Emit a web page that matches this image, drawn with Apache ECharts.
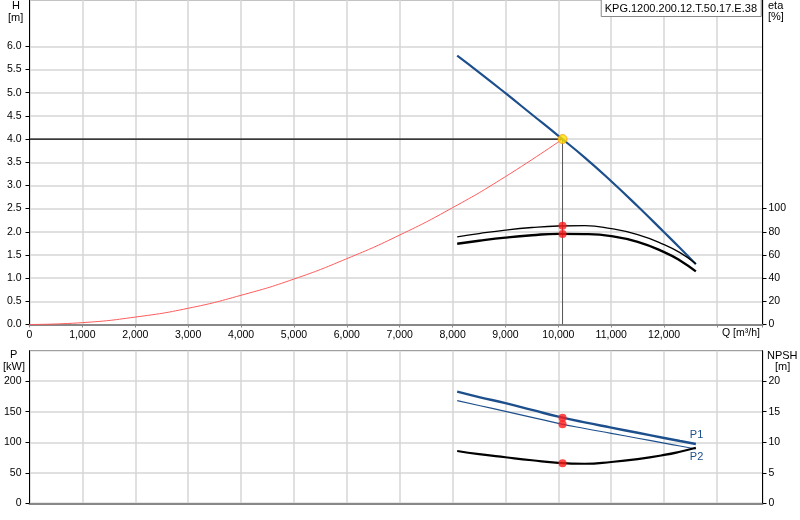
<!DOCTYPE html>
<html><head><meta charset="utf-8">
<script src="https://cdn.jsdelivr.net/npm/echarts@6/dist/echarts.min.js"></script>
<style>html,body{margin:0;padding:0;background:#fff}#c{width:800px;height:520px}</style>
</head><body><div id="c"></div>
<script>
// ---- data ----
const qPump   = [8087, 8500, 9000, 9500, 10000, 10500, 11000, 11500, 12000, 12300, 12600];
const headH   = [5.80, 5.44, 4.99, 4.53, 4.07, 3.60, 3.09, 2.55, 1.99, 1.65, 1.30];
const etaUp   = [75.7, 78.5, 81.5, 83.7, 85.0, 85.3, 82.7, 77.6, 69.0, 62.0, 52.5];
const etaLow  = [69.7, 72.3, 75.0, 77.0, 78.2, 78.0, 76.3, 71.3, 62.5, 55.3, 45.8];
const powerP1 = [182.9, 174.0, 164.0, 153.0, 142.0, 132.5, 124.0, 115.5, 107.0, 102.0, 97.2];
const powerP2 = [168.2, 160.2, 150.6, 140.9, 131.0, 122.5, 114.6, 106.6, 98.6, 93.9, 89.0];
const npsh    = [8.57, 8.05, 7.54, 7.05, 6.62, 6.48, 6.77, 7.25, 7.92, 8.45, 9.10];
const qSystem = [0, 1000, 2000, 3000, 4000, 5000, 6000, 7000, 8000, 9000, 10079];
const hSystem = [0, 0.04, 0.16, 0.35, 0.63, 0.98, 1.42, 1.93, 2.52, 3.19, 4.0];
const duty = {q: 10079, h: 4.0, etaUp: 85.2, etaLow: 78.0, p1: 140.3, p2: 129.5, npsh: 6.55};
const qTicks   = [0,1000,2000,3000,4000,5000,6000,7000,8000,9000,10000,11000,12000];
const hTicks   = [0,0.5,1,1.5,2,2.5,3,3.5,4,4.5,5,5.5,6];
const etaTicks = [0,20,40,60,80,100];
const pTicks   = [0,50,100,150,200];
const npshTicks= [0,5,10,15,20];
const title = 'KPG.1200.200.12.T.50.17.E.38';

const zip = (a,b) => a.map((v,i)=>[v,b[i]]);
const FONT = 'Liberation Sans, Arial, sans-serif';
const BLUE = '#1d4f8c';
const GRID = {lineStyle:{color:'#d6d6d6', width:1.5}};
const lab = (extra) => Object.assign({color:'#000', fontSize:10.5, fontFamily:FONT}, extra);
const SM = 0.5;

const chart = echarts.init(document.getElementById('c'), null, {renderer:'canvas'});
chart.setOption({
  animation:false,
  textStyle:{fontFamily:FONT},
  title:{text:title, right:39, top:-1, padding:[4,4,3,4], borderColor:'#888', borderWidth:1,
    backgroundColor:'#fff', textStyle:{fontSize:11, fontWeight:'normal', color:'#000', fontFamily:FONT}},
  grid:[
    {left:29.5, right:37.5, top:0, height:324.5, show:true, borderColor:'#888', borderWidth:1},
    {left:29.5, right:37.5, top:350.7, height:152.6, show:true, borderColor:'#888', borderWidth:1}
  ],
  xAxis:[
    {gridIndex:0, type:'value', min:0, max:13860, interval:1000,
      axisLine:{onZero:false, lineStyle:{color:'#888', width:2}},
      axisTick:{show:true, length:3, lineStyle:{color:'#888'}},
      axisLabel:lab({margin:5, customValues:qTicks, formatter:v=>v.toLocaleString('en-US')}),
      splitLine:GRID},
    {gridIndex:1, type:'value', min:0, max:13860, interval:1000,
      axisLine:{onZero:false, lineStyle:{color:'#888', width:2}},
      axisTick:{show:false}, axisLabel:{show:false}, splitLine:GRID}
  ],
  yAxis:[
    {gridIndex:0, type:'value', min:0, max:7, interval:0.5, position:'left',
      axisLine:{show:true, lineStyle:{color:'#000', width:1}},
      axisTick:{show:true, length:4, customValues:hTicks, lineStyle:{color:'#000'}},
      axisLabel:lab({margin:8, customValues:hTicks, formatter:v=>v.toFixed(1)}),
      splitLine:GRID},
    {gridIndex:0, type:'value', min:0, max:280, interval:20, position:'right',
      axisLine:{show:true, lineStyle:{color:'#000', width:1}},
      axisTick:{show:true, length:4, customValues:etaTicks, lineStyle:{color:'#000'}},
      axisLabel:lab({margin:6, customValues:etaTicks}),
      splitLine:{show:false}},
    {gridIndex:1, type:'value', min:0, max:250, interval:50, position:'left',
      axisLine:{show:true, lineStyle:{color:'#000', width:1}},
      axisTick:{show:true, length:4, customValues:pTicks, lineStyle:{color:'#000'}},
      axisLabel:lab({margin:8, customValues:pTicks}),
      splitLine:GRID},
    {gridIndex:1, type:'value', min:0, max:25, interval:5, position:'right',
      axisLine:{show:true, lineStyle:{color:'#000', width:1}},
      axisTick:{show:true, length:4, customValues:npshTicks, lineStyle:{color:'#000'}},
      axisLabel:lab({margin:6, customValues:npshTicks}),
      splitLine:{show:false}}
  ],
  graphic:[
    {type:'text', left:12, top:0, style:{text:'H', font:'11px '+FONT, fill:'#000'}},
    {type:'text', left:8, top:12, style:{text:'[m]', font:'11px '+FONT, fill:'#000'}},
    {type:'text', left:768, top:0, style:{text:'eta', font:'11px '+FONT, fill:'#000'}},
    {type:'text', left:768, top:11, style:{text:'[%]', font:'11px '+FONT, fill:'#000'}},
    {type:'text', left:722, top:328, style:{text:'Q [m³/h]', font:'10.5px '+FONT, fill:'#000'}},
    {type:'text', left:10, top:349, style:{text:'P', font:'11px '+FONT, fill:'#000'}},
    {type:'text', left:3, top:361, style:{text:'[kW]', font:'11px '+FONT, fill:'#000'}},
    {type:'text', left:767, top:350, style:{text:'NPSH', font:'11px '+FONT, fill:'#000'}},
    {type:'text', left:775, top:361, style:{text:'[m]', font:'11px '+FONT, fill:'#000'}}
  ],
  series:[
    {type:'line', xAxisIndex:0, yAxisIndex:0, data:zip(qSystem,hSystem), smooth:SM, showSymbol:false,
      lineStyle:{color:'#ff5a5a', width:1}, z:3},
    {type:'line', xAxisIndex:0, yAxisIndex:0, data:[[0,duty.h],[duty.q,duty.h]], showSymbol:false,
      lineStyle:{color:'#000', width:1.2}, z:3},
    {type:'line', xAxisIndex:0, yAxisIndex:0, data:[[duty.q,0],[duty.q,duty.h]], showSymbol:false,
      lineStyle:{color:'#555', width:1}, z:3},
    {type:'line', xAxisIndex:0, yAxisIndex:0, data:zip(qPump,headH), smooth:SM, showSymbol:false,
      lineStyle:{color:BLUE, width:2.2}, z:4},
    {type:'line', xAxisIndex:0, yAxisIndex:1, data:zip(qPump,etaUp), smooth:SM, showSymbol:false,
      lineStyle:{color:'#000', width:1.3}, z:4},
    {type:'line', xAxisIndex:0, yAxisIndex:1, data:zip(qPump,etaLow), smooth:SM, showSymbol:false,
      lineStyle:{color:'#000', width:2.4}, z:4},
    {type:'scatter', xAxisIndex:0, yAxisIndex:1, data:[[duty.q,duty.etaUp],[duty.q,duty.etaLow]],
      symbolSize:8, itemStyle:{color:'#ff1a1a'}, z:6},
    {type:'scatter', xAxisIndex:0, yAxisIndex:0, data:[[duty.q,duty.h]],
      symbolSize:9, itemStyle:{color:'#ffe000', borderColor:'#ff9a00', borderWidth:1}, z:6},
    {type:'line', xAxisIndex:1, yAxisIndex:2, data:zip(qPump,powerP1), smooth:SM, showSymbol:false,
      lineStyle:{color:BLUE, width:2.4}, z:4,
      endLabel:{show:true, formatter:'P1', color:BLUE, fontSize:11, fontFamily:FONT, offset:[-14,-9]}},
    {type:'line', xAxisIndex:1, yAxisIndex:2, data:zip(qPump,powerP2), smooth:SM, showSymbol:false,
      lineStyle:{color:BLUE, width:1.2}, z:4,
      endLabel:{show:true, formatter:'P2', color:BLUE, fontSize:11, fontFamily:FONT, offset:[-14,8]}},
    {type:'line', xAxisIndex:1, yAxisIndex:3, data:zip(qPump,npsh), smooth:SM, showSymbol:false,
      lineStyle:{color:'#000', width:2.2}, z:4},
    {type:'scatter', xAxisIndex:1, yAxisIndex:2, data:[[duty.q,duty.p1],[duty.q,duty.p2]],
      symbolSize:8, itemStyle:{color:'#ff1a1a'}, z:6},
    {type:'scatter', xAxisIndex:1, yAxisIndex:3, data:[[duty.q,duty.npsh]],
      symbolSize:8, itemStyle:{color:'#ff1a1a'}, z:6}
  ]
});
</script></body></html>
